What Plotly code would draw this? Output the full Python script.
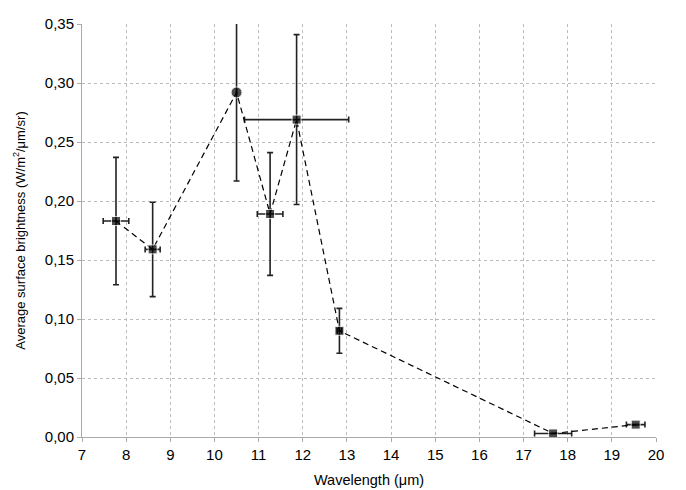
import plotly.graph_objects as go

wavelength = [7.77, 8.60, 10.50, 11.26, 11.86, 12.83, 17.67, 19.54]
brightness = [0.183, 0.159, 0.292, 0.189, 0.269, 0.090, 0.003, 0.0105]
err_y_plus = [0.054, 0.040, 0.080, 0.052, 0.072, 0.019, 0.0, 0.0]
err_y_minus = [0.054, 0.040, 0.075, 0.052, 0.072, 0.019, 0.0, 0.0]
err_x = [0.29, 0.17, 0.0, 0.29, 1.18, 0.05, 0.42, 0.21]
symbols = ["square", "square", "circle", "square", "square", "square", "square", "square"]
sizes = [9, 9, 11, 9, 9, 9, 9, 9]

x_ticks = list(range(7, 21))
y_ticks = [0, 0.05, 0.10, 0.15, 0.20, 0.25, 0.30, 0.35]

fig = go.Figure()
fig.add_trace(go.Scatter(
    x=wavelength, y=brightness,
    mode="lines+markers",
    line=dict(color="black", width=1.2, dash="6px,4px"),
    marker=dict(symbol=symbols, size=sizes, color="black"),
    error_y=dict(type="data", array=err_y_plus, arrayminus=err_y_minus,
                 symmetric=False, color="#222222", thickness=1.6, width=3),
    error_x=dict(type="data", array=err_x, color="#222222", thickness=1.6, width=3),
    showlegend=False,
))

fig.update_layout(
    width=686, height=490,
    margin=dict(l=74, r=38, t=7, b=61),
    paper_bgcolor="white", plot_bgcolor="white",
    separators=", ",
    font=dict(family="Liberation Sans, Arial, sans-serif", color="black", size=15),
    xaxis=dict(
        range=[7, 20], tickvals=x_ticks, ticktext=[str(t) for t in x_ticks],
        showgrid=True, gridcolor="#bbbbbb", griddash="dot", gridwidth=1,
        showline=True, linecolor="#aaaaaa", linewidth=1,
        ticks="outside", ticklen=4, tickcolor="#aaaaaa",
        tickfont=dict(size=15),
        zeroline=False,
        title=dict(text="Wavelength (μm)", font=dict(size=14.5), standoff=12),
    ),
    yaxis=dict(
        range=[0, 0.35], tickvals=y_ticks, tickformat=".2f",
        showgrid=True, gridcolor="#bbbbbb", griddash="dot", gridwidth=1,
        showline=True, linecolor="#aaaaaa", linewidth=1,
        ticks="outside", ticklen=4, tickcolor="#aaaaaa",
        tickfont=dict(size=15), ticklabeloverflow="allow",
        zeroline=False,
        title=dict(text="Average surface brightness (W/m<sup>2</sup>/μm/sr)", font=dict(size=13), standoff=16),
    ),
)

fig.write_html("out.html")
